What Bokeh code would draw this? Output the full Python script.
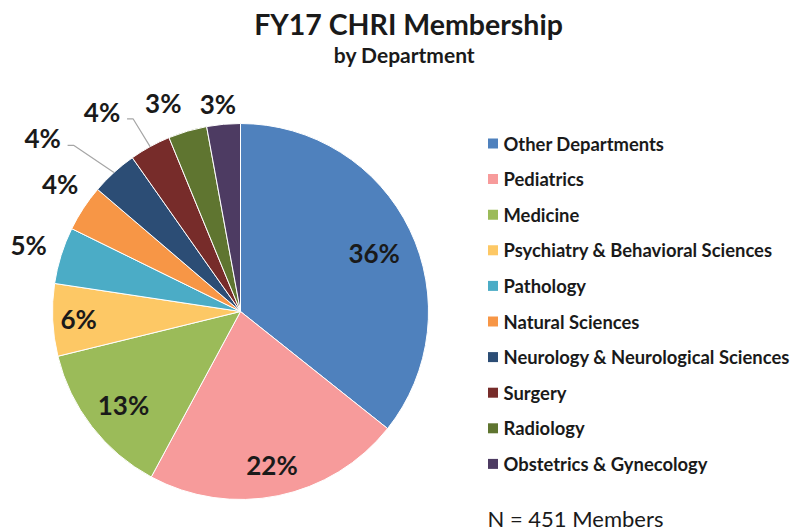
import math
from bokeh.plotting import figure
from bokeh.models import Range1d, ColumnDataSource
from bokeh.core.properties import value
from bokeh.embed import file_html
from bokeh.resources import INLINE

# ---- data ----
departments = [
    "Other Departments", "Pediatrics", "Medicine", "Psychiatry & Behavioral Sciences",
    "Pathology", "Natural Sciences", "Neurology & Neurological Sciences", "Surgery",
    "Radiology", "Obstetrics & Gynecology",
]
members = [161, 100, 60, 28, 22, 18, 18, 16, 15, 13]
colors = ["#4F81BD", "#F79B9B", "#9BBB59", "#FDC865", "#4BACC6",
          "#F79646", "#2C4D75", "#772C2A", "#5F7530", "#4D3B62"]
title_text = "FY17 CHRI Membership"
subtitle_text = "by Department"
total_text = "N = 451 Members"

# ---- layout (reference pixel coords -> data coords) ----
W, H = 791, 531
def X(rx): return rx
def Y(ry): return H - ry

FONT = "Lato"
TXT = "#1A1A1A"
cx, cy, R = X(240), Y(311), 188

p = figure(width=W, height=H, x_range=Range1d(0, W), y_range=Range1d(0, H),
           output_backend="svg", toolbar_location=None, min_border=0)
p.axis.visible = False
p.grid.visible = False
p.outline_line_color = None
p.background_fill_color = "white"
p.border_fill_color = "white"

total = sum(members)
fr = [m / total for m in members]
starts, ends, mids = [], [], []
cum = 0.0
for f in fr:
    a0 = math.pi / 2 - 2 * math.pi * cum
    a1 = math.pi / 2 - 2 * math.pi * (cum + f)
    starts.append(a0); ends.append(a1); mids.append((a0 + a1) / 2)
    cum += f

src = ColumnDataSource(dict(start=starts, end=ends, color=colors, name=departments))
p.wedge(x=cx, y=cy, radius=R, start_angle="start", end_angle="end", direction="clock",
        fill_color="color", line_color="white", line_width=1, source=src)

# percentage labels (radius from center, angular nudge in degrees)
label_r = [146, 157, 150, 162, 222, 221, 263, 243, 222, 209]
label_da = [-2, 0, 1, 0, 0, -2, 6.5, 6, 4, 1]
pct = [f"{round(100 * f)}%" for f in fr]
lx, ly = [], []
for m, r, da in zip(mids, label_r, label_da):
    a = m + math.radians(da)
    lx.append(cx + r * math.cos(a)); ly.append(cy + r * math.sin(a))
p.text(x=lx, y=ly, text=pct, text_font=value(FONT), text_font_style="bold",
       text_font_size="26px", text_align="center", text_baseline="middle", text_color=TXT)

# leader lines for displaced labels
for i in (6, 7):
    ex = cx + R * math.cos(mids[i]); ey = cy + R * math.sin(mids[i])
    sx = lx[i] + 25; sy = ly[i] - 7
    p.line([sx, sx + 6, ex], [sy, sy, ey], line_color="#A6A6A6", line_width=1.2)

# title
p.text(x=[X(408)], y=[Y(23)], text=[title_text], text_font=value(FONT), text_font_style="bold",
       text_font_size="28.5px", text_align="center", text_baseline="middle", text_color=TXT)
p.text(x=[X(404)], y=[Y(54)], text=[subtitle_text], text_font=value(FONT), text_font_style="bold",
       text_font_size="21px", text_align="center", text_baseline="middle", text_color=TXT)

# legend
ly0, dy = Y(143), 35.6
leg_y = [ly0 - i * dy for i in range(len(departments))]
p.rect(x=[X(492.5)] * len(departments), y=leg_y, width=10, height=10,
       fill_color=colors, line_color=None)
p.text(x=[X(503)] * len(departments), y=leg_y, text=departments, text_font=value(FONT),
       text_font_style="bold", text_font_size="18.4px", text_baseline="middle", text_color=TXT)

p.text(x=[X(487)], y=[Y(518)], text=[total_text], text_font=value(FONT),
       text_font_size="22px", text_baseline="middle", text_color=TXT)

open("out.html", "w").write(file_html(p, INLINE))
